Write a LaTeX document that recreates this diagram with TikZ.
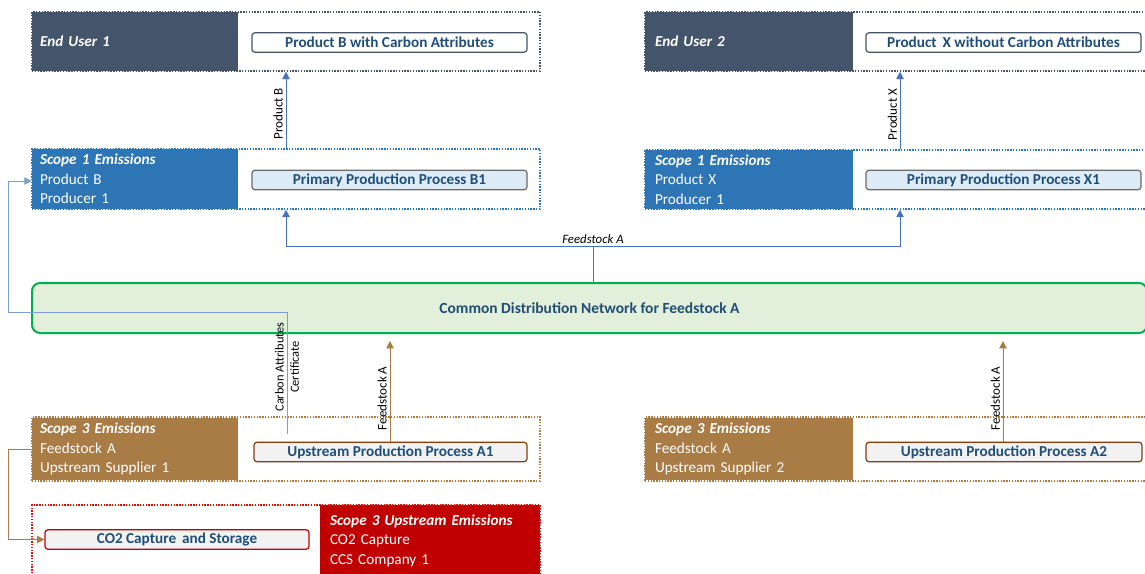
\documentclass[tikz,border=0pt]{standalone}
\usepackage{fontspec}
\setmainfont{Carlito}
\usetikzlibrary{arrows.meta,calc}

\definecolor{slate}{HTML}{44546A}
\definecolor{scopeblue}{HTML}{2E75B6}
\definecolor{scopebrown}{HTML}{A97B45}
\definecolor{scopered}{HTML}{C00000}
\definecolor{dotred}{HTML}{D81010}
\definecolor{proctext}{HTML}{1F4E79}
\definecolor{procgray}{HTML}{6B6B6B}
\definecolor{procfillblue}{HTML}{DDEBF7}
\definecolor{procfillgray}{HTML}{F2F2F2}
\definecolor{procbrown}{HTML}{843C0C}
\definecolor{netgreen}{HTML}{00B050}
\definecolor{netfill}{HTML}{E2EFDA}
\definecolor{flowblue}{HTML}{4472C4}
\definecolor{certblue}{HTML}{7C9CD8}

\tikzset{
  container/.style={draw, line width=1.1pt, dash pattern=on 1pt off 1.1pt,
    fill=none, inner sep=0pt, minimum width=#1},
  headbox/.style={inner xsep=6pt, inner ysep=0pt, align=left, text=white,
    font=\fontsize{11.4}{14.6}\selectfont, text width=#1},
  procbox/.style={draw, rounded corners=2.2pt, line width=0.9pt, text=proctext,
    font=\bfseries\fontsize{11.4}{12}\selectfont, inner sep=0pt,
    minimum height=14.6pt},
  flow/.style={draw=flowblue, line width=0.75pt,
    -{Triangle[length=5.5pt,width=5.5pt]}},
  certflow/.style={draw=certblue, line width=0.75pt,
    -{Triangle[length=5.5pt,width=5.5pt]}},
  brownflow/.style={draw=scopebrown, line width=0.75pt,
    -{Triangle[length=5.5pt,width=5.5pt]}},
  rotlabel/.style={rotate=90, anchor=south, inner sep=2pt,
    font=\fontsize{9.8}{11}\selectfont},
}

\begin{document}
\begin{tikzpicture}[x=0.75pt, y=-0.75pt]
\clip (0,0) rectangle (1145,574);
\fill[white] (0,0) rectangle (1145,574);

% ---------- End users ----------
\node[headbox=142.5pt, fill=slate, minimum height=44.25pt] (eu1) at (135,41.5)
  {\bfseries\itshape End User 1};
\node[container=381pt, draw=slate, minimum height=44.25pt] (eu1c) at (286,41.5) {};
\node[procbox, fill=white, draw=slate, minimum width=206.25pt] (pB) at (389.5,42.5)
  {Product B with Carbon Attributes};

\node[headbox=141pt, inner xsep=7.5pt, fill=slate, minimum height=44.25pt] (eu2) at (749,41.5)
  {\bfseries\itshape End User 2};
\node[container=386.25pt, draw=slate, minimum height=44.25pt] (eu2c) at (902.5,41.5) {};
\node[procbox, fill=white, draw=slate, minimum width=206.25pt] (pX) at (1003.5,42.5)
  {Product\, X without Carbon Attributes};

% ---------- Scope 1 producers ----------
\node[headbox=142.5pt, fill=scopeblue, minimum height=45pt] (s1B) at (135,179)
  {\textbf{\textit{Scope 1 Emissions}}\\Product B\\Producer 1};
\node[container=381pt, draw=scopeblue, minimum height=45pt] (s1Bc) at (286,179) {};
\node[procbox, fill=procfillblue, draw=procgray, minimum width=206.25pt] (ppB) at (389.5,180)
  {Primary Production Process B1};

\node[headbox=141pt, inner xsep=7.5pt, fill=scopeblue, minimum height=44.25pt] (s1X) at (749,179.5)
  {\textbf{\textit{Scope 1 Emissions}}\\Product X\\Producer 1};
\node[container=386.25pt, draw=scopeblue, minimum height=44.25pt] (s1Xc) at (902.5,179.5) {};
\node[procbox, fill=procfillblue, draw=procgray, minimum width=206.25pt] (ppX) at (1003.5,180)
  {Primary Production Process X1};

% ---------- Distribution network ----------
\node[draw=netgreen, fill=netfill, line width=1.5pt, rounded corners=6pt,
  minimum width=836.25pt, minimum height=37.5pt, text=proctext,
  font=\bfseries\fontsize{11.6}{12}\selectfont] (net) at (589.5,308)
  {Common Distribution Network for Feedstock A\hspace{5pt}};

% ---------- Scope 3 suppliers ----------
\node[headbox=142.5pt, fill=scopebrown, minimum height=46.5pt] (s3A) at (135,449)
  {\textbf{\textit{Scope 3 Emissions}}\\Feedstock A\\Upstream Supplier 1};
\node[container=381pt, draw=scopebrown, minimum height=48pt] (s3Ac) at (286,449) {};
\node[procbox, fill=procfillgray, draw=procbrown, minimum width=204.75pt] (upA1) at (390.5,452)
  {Upstream Production Process A1};

\node[headbox=141pt, inner xsep=7.5pt, fill=scopebrown, minimum height=46.5pt] (s3B) at (749,449)
  {\textbf{\textit{Scope 3 Emissions}}\\Feedstock A\\Upstream Supplier 2};
\node[container=386.25pt, draw=scopebrown, minimum height=48pt] (s3Bc) at (902.5,449) {};
\node[procbox, fill=procfillgray, draw=procbrown, minimum width=207pt] (upA2) at (1004,452)
  {Upstream Production Process A2};

% ---------- Carbon capture ----------
\node[headbox=150pt, inner xsep=7.5pt, fill=scopered, minimum height=53.25pt] (ccs) at (430,540.5)
  {\textbf{\textit{Scope 3 Upstream Emissions}}\\CO2 Capture\\CCS Company 1};
\node[container=381pt, draw=dotred, minimum height=101.25pt] (ccsc) at (286,572.5) {};
\node[procbox, fill=procfillgray, draw=scopered, minimum width=198pt] (co2) at (177,539.5)
  {CO2 Capture\, and Storage};

% ---------- Flow guides ----------
\coordinate (xB) at (286,0);
\coordinate (xX) at (900,0);
\coordinate (J) at (593,246);
\coordinate (cert0) at (287,434);
\coordinate (certL) at (8,312);
\coordinate (certT) at (32,181);
\coordinate (fa1) at (390,341);
\coordinate (fa2) at (1003,341);
\coordinate (bl) at (8,0);

% products to end users
\draw[flow] (s1Bc.north -| xB) -- node[rotlabel, pos=0.45] {Product B} (eu1c.south -| xB);
\draw[flow] (s1Xc.north -| xX) -- node[rotlabel, pos=0.45] {Product X} (eu2c.south -| xX);

% feedstock from the network to the producers
\draw[flow] (net.north -| J) -- (J) -| (s1Bc.south -| xB);
\draw[flow] (J) -| (s1Xc.south -| xX);
\node[anchor=south, inner sep=1.5pt, font=\itshape\fontsize{9.6}{11}\selectfont] (falab) at (J)
  {Feedstock A};

% certificate path
\draw[certflow] (cert0) |- (certL) |- (s1B.west |- certT);
\node[rotate=90, align=center, inner sep=0pt, font=\fontsize{9.3}{11.4}\selectfont] (certlab)
  at (287,367) {Carbon Attributes\\Certificate};

% feedstock from suppliers into the network
\draw[brownflow] (upA1.north -| fa1) -- node[rotlabel, pos=0.43] {Feedstock A} (fa1);
\draw[brownflow] (upA2.north -| fa2) -- node[rotlabel, pos=0.43] {Feedstock A} (fa2);

% supplier to carbon capture
\draw[brownflow] (s3A.west) -- (s3A.west -| bl) |- (co2.west);
\end{tikzpicture}
\end{document}
